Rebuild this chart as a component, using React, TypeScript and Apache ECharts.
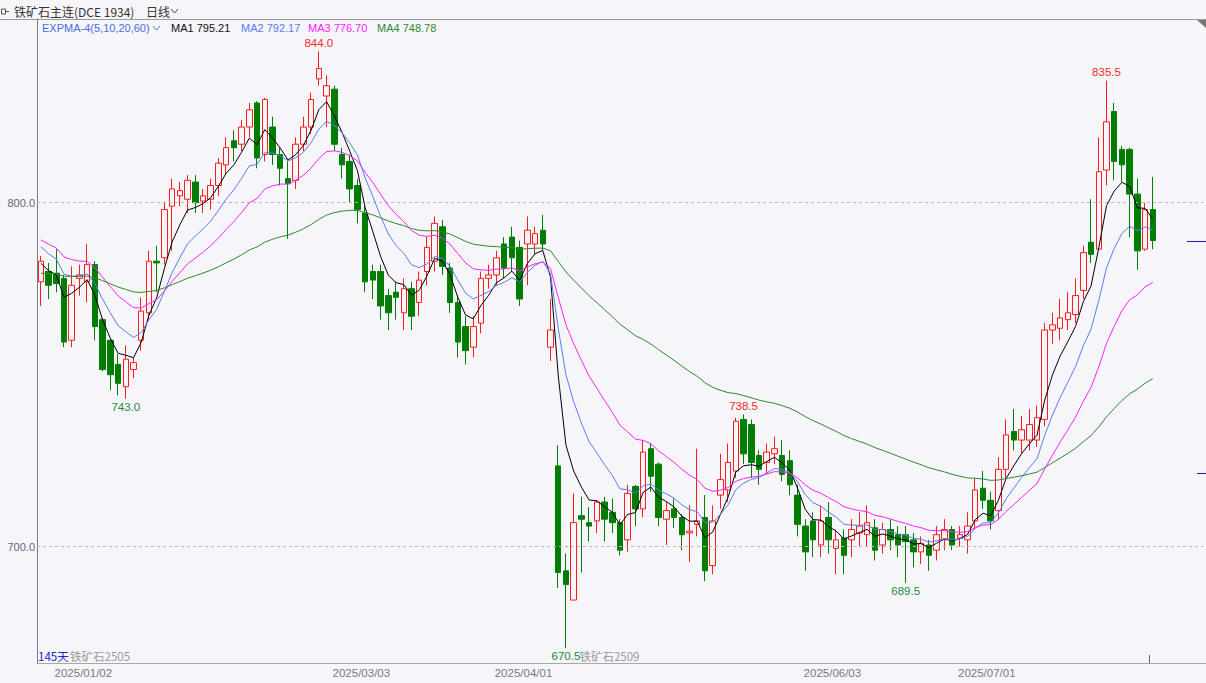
import React, { useEffect, useRef } from "react";
import * as echarts from "echarts";

// ---- data (DCE iron ore continuous, daily) ----
const opens = [
  777.0, 780.0, 779.5, 778.0, 760.0, 778.0, 777.0, 782.0, 766.0, 760.0,
  753.0, 746.5, 751.5, 760.0, 768.0, 783.0, 784.0, 799.0, 802.0, 801.0,
  806.0, 800.5, 801.0, 805.0, 811.0, 818.0, 817.0, 822.0, 829.0, 814.0,
  822.0, 814.0, 807.0, 806.5, 817.0, 822.0, 836.0, 831.0, 833.0, 814.0,
  812.0, 805.0, 797.0, 780.0, 780.0, 773.0, 774.0, 768.0, 775.0, 771.0,
  780.0, 783.0, 793.0, 781.0, 771.0, 764.0, 758.0, 765.0, 778.0, 779.0,
  788.0, 790.0, 787.0, 788.0, 788.0, 792.0, 758.0, 723.5, 693.0, 684.5,
  709.0, 707.0, 707.5, 713.0, 710.0, 707.0, 702.0, 717.5, 711.0, 728.5,
  724.0, 708.0, 711.0, 708.5, 704.0, 706.5, 708.5, 694.5, 715.0, 716.5,
  722.0, 737.0, 735.5, 726.5, 724.5, 727.0, 726.5, 725.0, 715.0, 706.0,
  707.5, 700.5, 708.5, 699.5, 702.5, 702.0, 704.0, 703.5, 705.5, 700.5,
  705.0, 703.5, 703.5, 702.0, 698.5, 700.5, 699.0, 702.0, 705.0, 702.5,
  702.0, 707.5, 717.0, 713.5, 710.5, 722.5, 733.5, 731.0, 731.0, 731.0,
  737.0, 763.0, 763.5, 766.0, 767.5, 774.5, 788.5, 786.5, 809.5, 826.5,
  815.5, 815.5, 802.5, 786.5, 798.0,
];
const closes = [
  783.0, 776.0, 776.5, 759.5, 776.0, 779.0, 782.0, 764.0, 751.5, 750.0,
  747.5, 754.5, 753.5, 768.5, 783.0, 782.5, 798.0, 804.0, 803.5, 806.5,
  800.0, 802.0, 805.0, 811.5, 816.0, 816.0, 822.0, 827.0, 813.0, 830.0,
  814.0, 810.0, 805.5, 817.0, 822.0, 830.0, 839.0, 834.0, 817.0, 811.0,
  804.0, 798.0, 777.0, 777.5, 770.0, 768.0, 772.5, 775.0, 767.0, 777.5,
  787.0, 794.0, 781.5, 771.0, 759.5, 757.0, 764.0, 778.0, 779.0, 784.0,
  781.0, 784.0, 772.0, 792.0, 791.0, 788.0, 763.0, 692.5, 689.0, 707.0,
  708.0, 706.0, 713.0, 708.0, 707.0, 699.0, 715.5, 711.0, 727.5, 720.5,
  708.5, 710.5, 708.5, 703.5, 704.5, 707.5, 693.0, 707.5, 719.5, 724.5,
  736.5, 727.0, 724.5, 722.5, 727.5, 728.5, 721.0, 718.0, 706.5, 698.5,
  702.0, 707.5, 702.0, 702.0, 697.5, 705.0, 706.0, 707.0, 699.0, 705.0,
  702.0, 700.5, 701.5, 698.5, 701.0, 697.5, 703.5, 705.0, 700.5, 703.5,
  706.0, 716.5, 713.5, 707.5, 722.5, 732.5, 731.0, 734.0, 735.5, 737.5,
  763.0, 764.5, 766.5, 768.0, 773.0, 785.5, 785.0, 809.0, 823.5, 812.0,
  811.0, 802.5, 786.0, 798.0, 789.0,
];
const lows = [
  770.0, 772.0, 774.0, 758.0, 758.0, 773.0, 771.0, 760.0, 751.0, 745.5,
  744.0, 743.0, 749.0, 757.0, 766.0, 774.0, 782.0, 786.0, 799.0, 797.0,
  797.0, 797.0, 798.0, 802.0, 808.0, 812.0, 815.0, 819.0, 810.0, 812.0,
  811.0, 805.0, 789.5, 804.0, 815.0, 820.0, 834.0, 822.0, 815.0, 807.0,
  800.0, 794.0, 774.0, 772.0, 766.0, 763.0, 766.0, 763.0, 763.0, 767.0,
  776.0, 780.0, 779.0, 768.0, 755.0, 753.0, 755.0, 762.0, 775.0, 776.0,
  778.0, 780.0, 770.0, 776.0, 785.0, 786.0, 754.0, 688.0, 670.5, 684.5,
  692.5, 701.5, 704.0, 701.5, 704.0, 697.5, 698.5, 706.0, 708.5, 716.0,
  706.0, 700.5, 705.5, 699.0, 695.5, 703.0, 690.0, 692.0, 711.0, 713.0,
  720.0, 724.0, 720.0, 718.0, 721.0, 724.0, 719.0, 715.0, 703.0, 693.0,
  697.0, 697.0, 698.0, 692.0, 692.0, 697.0, 700.0, 700.0, 696.0, 698.0,
  699.0, 697.0, 689.5, 694.0, 695.0, 693.0, 696.0, 699.0, 699.0, 700.0,
  698.0, 705.0, 711.0, 705.0, 708.0, 720.0, 728.0, 727.0, 728.0, 729.0,
  735.0, 759.0, 760.0, 763.0, 765.0, 772.0, 782.5, 786.5, 805.0, 806.5,
  806.0, 790.0, 780.5, 786.0, 786.5,
];
const highs = [
  784.5, 782.5, 786.5, 779.0, 781.5, 782.0, 788.0, 783.0, 766.5, 760.5,
  756.0, 758.5, 755.0, 772.5, 786.0, 787.5, 800.0, 807.0, 806.0, 808.0,
  808.0, 804.0, 807.0, 813.0, 819.0, 821.0, 824.0, 829.0, 829.5, 830.5,
  825.0, 816.0, 812.0, 819.0, 825.0, 832.0, 844.0, 837.0, 834.0, 816.0,
  814.0, 807.0, 799.0, 782.0, 782.0, 775.0, 777.0, 778.0, 777.0, 780.0,
  790.0, 796.0, 795.0, 782.5, 773.0, 767.0, 767.0, 780.0, 782.0, 786.0,
  790.0, 793.0, 789.0, 796.0, 793.0, 796.5, 772.0, 729.5, 698.0, 715.5,
  714.5, 711.5, 713.5, 714.5, 714.0, 708.0, 718.0, 718.0, 731.0, 730.0,
  724.5, 713.0, 714.0, 709.5, 712.0, 728.5, 715.0, 712.0, 727.0, 730.0,
  737.5, 738.5, 737.0, 728.0, 730.0, 732.0, 731.0, 728.0, 718.0, 708.0,
  710.0, 712.0, 713.0, 705.0, 705.0, 708.0, 710.0, 712.0, 708.0, 707.0,
  708.0, 706.0, 706.0, 704.0, 703.0, 702.0, 706.0, 708.0, 706.0, 706.0,
  710.0, 720.0, 722.0, 716.0, 726.0, 737.0, 740.0, 738.0, 740.0, 741.0,
  765.0, 768.0, 772.0, 774.0, 778.0, 787.5, 801.0, 819.0, 835.5, 829.0,
  816.5, 816.0, 807.0, 800.0, 807.5,
];

const tickIndex = [1, 37, 58, 98, 118];
const tickLabels = ["2025/01/02", "2025/03/03", "2025/04/01", "2025/06/03", "2025/07/01"];
const gridLevels = [700, 800];

const emaPeriods = [5, 10, 20, 60];
const emaSeeds = [782.4, 787.2, 789.2, 779.5]; // EXPMA values at the first visible bar
const emaNames = ["MA1", "MA2", "MA3", "MA4"];
const emaColors = ["#000000", "#5b7cf2", "#ff22ff", "#2f8a2f"];
const legendValues = ["795.21", "792.17", "776.70", "748.78"];
const legendX = [171, 241, 308, 377];

const highMarkIdx = [36, 91, 138];
const lowMarkIdx = [11, 68, 112];
const contractIdx = [0, 66];
const contractNames = ["铁矿石2505", "铁矿石2509"];
const refLevel = 721.3;
const PAD_SLOTS = 6;

const Y_MIN = 666.2;
const Y_MAX = 853.4;
const BG = "#f5f5fa";
const LATIN = '"Liberation Sans", "Noto Sans CJK SC", sans-serif';
const CJK = '"Noto Sans CJK SC", sans-serif';

function buildEma(): number[][] {
  return emaPeriods.map((n, k) => {
    const a = 2 / (n + 1);
    const out: number[] = [emaSeeds[k]];
    for (let i = 1; i < closes.length; i++) out.push(a * closes[i] + (1 - a) * out[i - 1]);
    return out.map((v) => Math.round(v * 100) / 100);
  });
}

export default function App() {
  const ref = useRef<HTMLDivElement>(null);

  useEffect(() => {
    if (!ref.current) return;
    const chart = echarts.init(ref.current, null, { renderer: "svg" });
    const cats = Array.from({ length: closes.length + PAD_SLOTS }, (_, i) => String(i));
    const candles = opens.map((o, i) => [o, closes[i], lows[i], highs[i]]);
    const emas = buildEma();

    const markData: any[] = [];
    highMarkIdx.forEach((i) =>
      markData.push({
        coord: [String(i), highs[i]],
        value: highs[i],
        label: { position: "top", distance: 2, color: "#ee2b2b", formatter: highs[i].toFixed(1) },
      })
    );
    lowMarkIdx.forEach((i) =>
      markData.push({
        coord: [String(i), lows[i]],
        value: lows[i],
        label: { position: "bottom", distance: 2, color: "#1f8a3c", formatter: lows[i].toFixed(1) },
      })
    );

    const option: any = {
      animation: false,
      backgroundColor: BG,
      grid: { left: 37, right: 0, top: 19, bottom: 20 },
      xAxis: {
        type: "category",
        data: cats,
        boundaryGap: true,
        axisLine: { show: true, lineStyle: { color: "#a8a8a8", width: 1 } },
        axisTick: { show: false },
        splitLine: { show: false },
        axisLabel: {
          interval: (idx: number) => tickIndex.indexOf(idx) >= 0,
          formatter: (_v: string, idx: number) => {
            const k = tickIndex.indexOf(idx);
            return k >= 0 ? tickLabels[k] : "";
          },
          align: "left",
          padding: [0, 0, 0, 6],
          margin: 4,
          color: "#7a7a7a",
          fontSize: 11.5,
          fontFamily: LATIN,
        },
      },
      yAxis: {
        type: "value",
        min: Y_MIN,
        max: Y_MAX,
        axisLine: { show: true, lineStyle: { color: "#7c7c7c", width: 1 } },
        axisTick: { show: false },
        axisLabel: { show: false },
        splitLine: { show: false },
      },
      series: [
        {
          type: "candlestick",
          data: candles,
          barWidth: 6,
          itemStyle: {
            color: BG,
            color0: "#007d00",
            borderColor: "#ff1c1c",
            borderColor0: "#007d00",
            borderWidth: 1,
          },
          markLine: {
            silent: true,
            symbol: "none",
            lineStyle: { type: [3, 3], color: "#b8b8bc", width: 1 },
            label: {
              position: "start",
              distance: 2,
              color: "#5d6b84",
              fontSize: 11,
              fontFamily: LATIN,
              formatter: (p: any) => Number(p.value).toFixed(1),
            },
            data: gridLevels.map((v) => ({ yAxis: v })),
          },
          markPoint: {
            symbol: "circle",
            symbolSize: 1,
            itemStyle: { color: "rgba(0,0,0,0)" },
            label: { fontSize: 11.5, fontFamily: LATIN },
            data: markData,
          },
        },
        ...emas.map((d, k) => ({
          type: "line",
          name: emaNames[k],
          data: d,
          showSymbol: false,
          symbol: "none",
          z: 5,
          lineStyle: { color: emaColors[k], width: 1 },
          itemStyle: { color: emaColors[k] },
        })),
      ],
    };
    // keep 151 slots of 7.72px: plot spans 37 .. 1203
    option.grid.right = 3;
    chart.setOption(option);

    const px = (i: number, v: number) => chart.convertToPixel({ gridIndex: 0 }, [i, v]) as number[];
    const last = closes.length - 1;
    const lastPt = px(last, closes[last]);
    const refPt = px(last, refLevel);
    const bottomY = px(0, Y_MIN)[1];
    const sw = px(1, Y_MIN)[0] - px(0, Y_MIN)[0];

    const g: any[] = [
      { type: "line", shape: { x1: 0, y1: 19.5, x2: 1206, y2: 19.5 }, style: { stroke: "#9a9a9a", lineWidth: 1 } },
      { type: "line", shape: { x1: 1203, y1: bottomY + 0.5, x2: 1206, y2: bottomY + 0.5 }, style: { stroke: "#a8a8a8", lineWidth: 1 } },
      { type: "polygon", shape: { points: [[1197, 20], [1206, 20], [1206, 28]] }, style: { fill: "#777" } },
      { type: "rect", shape: { x: 1.5, y: 9, width: 4, height: 5 }, style: { fill: "none", stroke: "#555", lineWidth: 1 } },
      { type: "line", shape: { x1: 5.5, y1: 11.5, x2: 9, y2: 11.5 }, style: { stroke: "#555", lineWidth: 1 } },
      { type: "text", style: { text: "铁矿石主连(DCE 1934)", x: 14, y: 11, verticalAlign: "middle", fill: "#333", fontSize: 12, fontFamily: CJK } },
      { type: "text", style: { text: "日线", x: 146, y: 11, verticalAlign: "middle", fill: "#333", fontSize: 12, fontFamily: CJK } },
      { type: "polyline", shape: { points: [[171, 9], [174.5, 13], [178, 9]] }, style: { stroke: "#444", lineWidth: 1, fill: "none" } },
      { type: "text", style: { text: "EXPMA-4(5,10,20,60)", x: 42, y: 28, verticalAlign: "middle", fill: "#4a6fdc", fontSize: 11, fontFamily: LATIN } },
      { type: "polyline", shape: { points: [[153, 26], [156.5, 30], [160, 26]] }, style: { stroke: "#4a6fdc", lineWidth: 1, fill: "none" } },
      ...emaNames.map((n, k) => ({
        type: "text",
        style: {
          text: `${n} ${legendValues[k]}`,
          x: legendX[k],
          y: 28,
          verticalAlign: "middle",
          fill: k === 0 ? "#111" : emaColors[k],
          fontSize: 11,
          fontFamily: LATIN,
        },
      })),
      { type: "line", shape: { x1: 1187, y1: Math.round(lastPt[1]) + 0.5, x2: 1206, y2: Math.round(lastPt[1]) + 0.5 }, style: { stroke: "#1c1ca8", lineWidth: 1 } },
      { type: "line", shape: { x1: 1197, y1: Math.round(refPt[1]) + 0.5, x2: 1206, y2: Math.round(refPt[1]) + 0.5 }, style: { stroke: "#1c1ca8", lineWidth: 1 } },
      { type: "line", shape: { x1: Math.round(lastPt[0] - sw / 2) + 0.5, y1: bottomY - 8, x2: Math.round(lastPt[0] - sw / 2) + 0.5, y2: bottomY }, style: { stroke: "#666", lineWidth: 1 } },
      // contract names sit just right of the overlapping day-count / low labels
      ...contractIdx.map((i, k) => ({
        type: "text",
        z: 10,
        style: {
          text: contractNames[k],
          x: i === 0 ? 70 : px(i + 4, Y_MIN)[0] - 2,
          y: bottomY - 7,
          verticalAlign: "middle",
          fill: "#9a9a9a",
          fontSize: 11.5,
          fontFamily: CJK,
        },
      })),
      { type: "text", z: 11, style: { text: `${closes.length}天`, x: 38, y: bottomY - 7, verticalAlign: "middle", fill: "#2222cc", fontSize: 11.5, fontFamily: CJK } },
    ];
    chart.setOption({ graphic: g });

    return () => chart.dispose();
  }, []);

  return (
    <div
      ref={ref}
      style={{ position: "absolute", left: 0, top: 0, width: 1206, height: 683, background: BG }}
    />
  );
}
